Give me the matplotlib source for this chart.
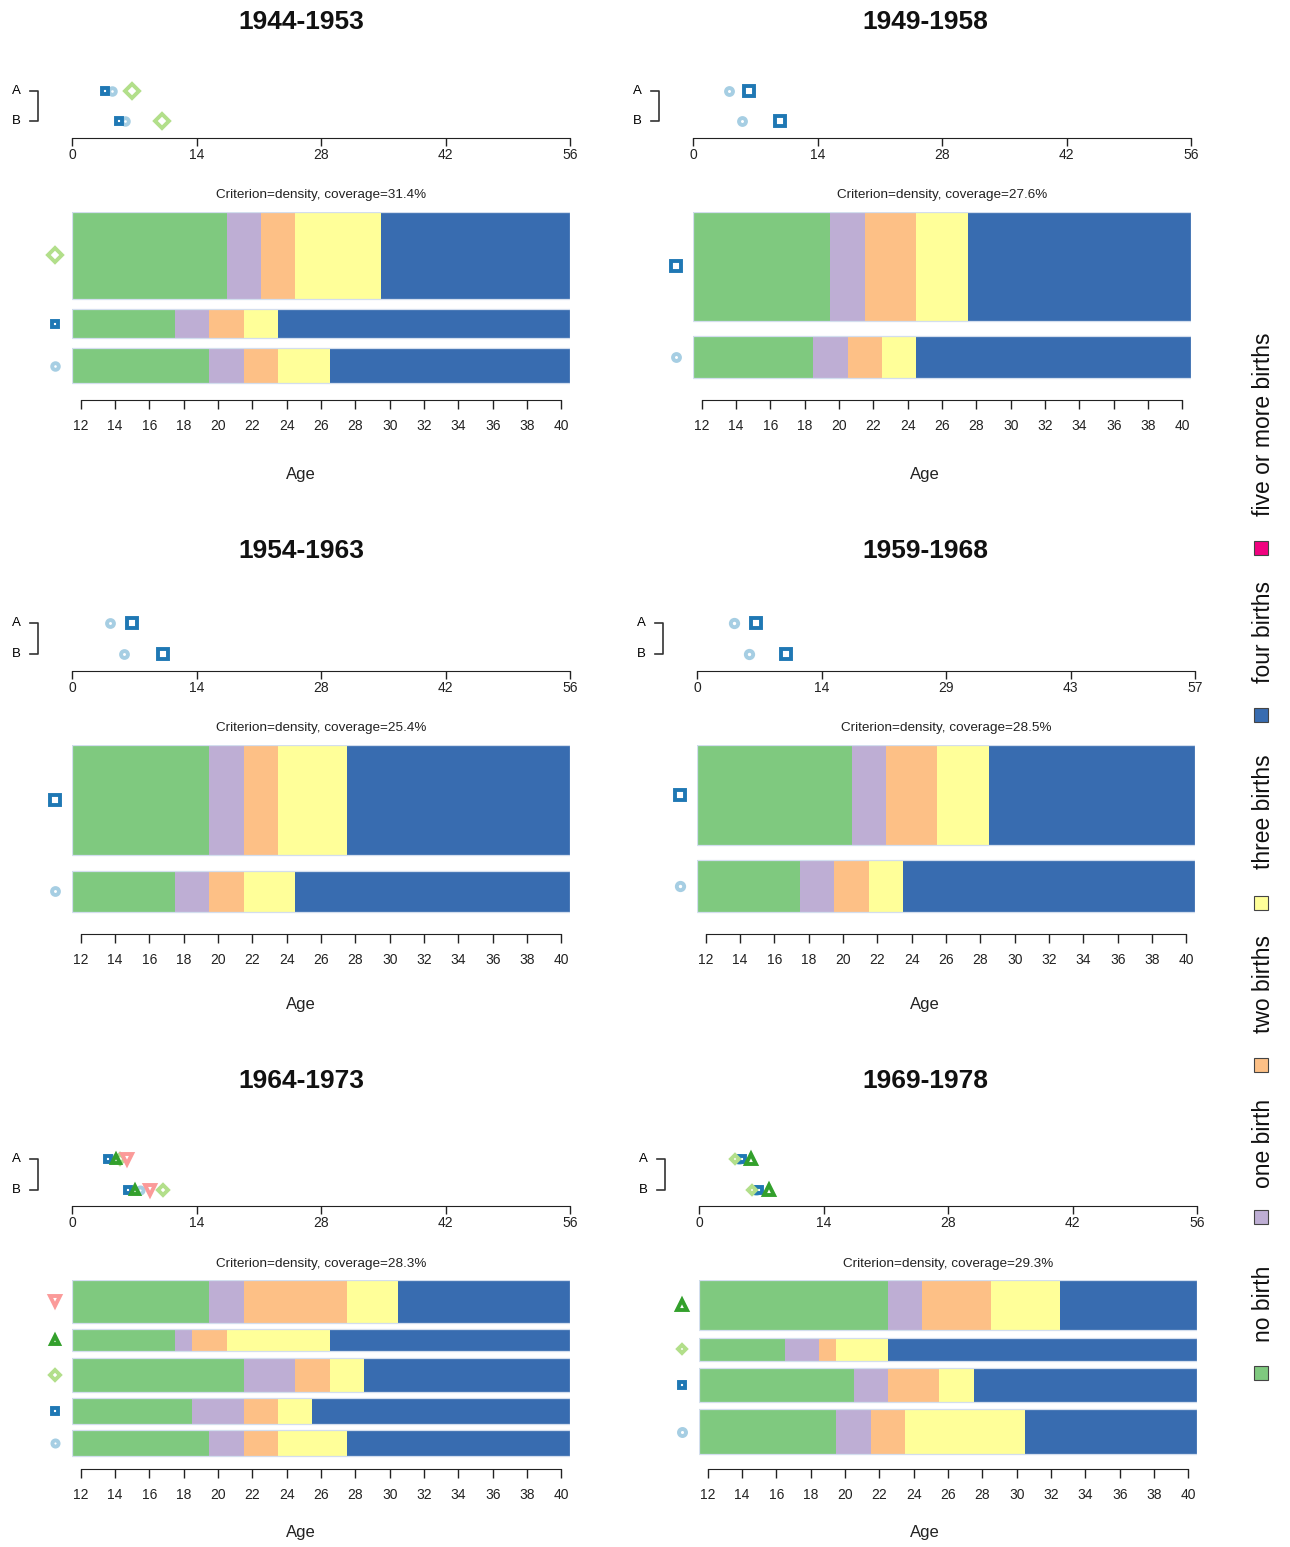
import matplotlib
matplotlib.use("Agg")
import matplotlib.pyplot as plt
import matplotlib.transforms as mtransforms
from matplotlib.patches import Rectangle

plt.rcParams["font.family"] = ["Liberation Sans", "DejaVu Sans"]

W, H = 1290, 1547

STATES = ["no birth", "one birth", "two births", "three births", "four births",
          "five or more births"]
STATE_COLORS = ["#7FC97F", "#BEAED4", "#FDC086", "#FFFF99", "#386CB0", "#F0027F"]
AGE_FIRST, AGE_LAST = 12, 40
AGE_TICKS = list(range(12, 41, 2))

COHORTS = ["1944-1953", "1949-1958", "1954-1963", "1959-1968", "1964-1973", "1969-1978"]
COVERAGE = [31.4, 27.6, 25.4, 28.5, 28.3, 29.3]
DIST_MAX = [56, 56, 56, 57, 56, 56]

# representative symbols (cluster order 1..5, drawn bottom to top)
REP_MARKERS = ["o", "s", "D", "^", "v"]
REP_COLORS = ["#A6CEE3", "#1F78B4", "#B2DF8A", "#33A02C", "#FB9A99"]

# years spent in: no birth, one, two, three, four births (per representative)
SPELLS_1944 = [[8, 2, 2, 3, 14], [6, 2, 2, 2, 17], [9, 2, 2, 5, 11]]
SPELLS_1949 = [[7, 2, 2, 2, 16], [8, 2, 3, 3, 13]]
SPELLS_1954 = [[6, 2, 2, 3, 16], [8, 2, 2, 4, 13]]
SPELLS_1959 = [[6, 2, 2, 2, 17], [9, 2, 3, 3, 12]]
SPELLS_1964 = [[8, 2, 2, 4, 13], [7, 3, 2, 2, 15], [10, 3, 2, 2, 12],
               [6, 1, 2, 6, 14], [8, 2, 6, 3, 10]]
SPELLS_1969 = [[8, 2, 2, 7, 10], [9, 2, 3, 2, 13], [5, 2, 1, 3, 18],
               [11, 2, 4, 4, 8]]

# share of sequences represented (%)
FREQ_1944 = [7.2, 6.1, 18.1]
FREQ_1949 = [7.7, 19.9]
FREQ_1954 = [6.9, 18.5]
FREQ_1959 = [9.7, 18.8]
FREQ_1964 = [4.8, 4.8, 6.5, 4.2, 8.0]
FREQ_1969 = [8.7, 6.5, 4.4, 9.7]

# A / B mean distances
DIST_A_1944 = [4.5, 3.7, 6.7]
DIST_B_1944 = [6.0, 5.3, 10.1]
DIST_A_1949 = [4.0, 6.3]
DIST_B_1949 = [5.5, 9.8]
DIST_A_1954 = [4.3, 6.7]
DIST_B_1954 = [5.9, 10.2]
DIST_A_1959 = [4.25, 6.8]
DIST_B_1959 = [6.0, 10.2]
DIST_A_1964 = [4.6, 4.0, 5.4, 5.0, 6.2]
DIST_B_1964 = [7.7, 6.3, 10.2, 7.1, 8.8]
DIST_A_1969 = [4.5, 4.8, 4.1, 5.85]
DIST_B_1969 = [6.4, 6.7, 6.0, 7.9]

SPELLS = [SPELLS_1944, SPELLS_1949, SPELLS_1954, SPELLS_1959, SPELLS_1964, SPELLS_1969]
FREQS = [FREQ_1944, FREQ_1949, FREQ_1954, FREQ_1959, FREQ_1964, FREQ_1969]
DIST_A = [DIST_A_1944, DIST_A_1949, DIST_A_1954, DIST_A_1959, DIST_A_1964, DIST_A_1969]
DIST_B = [DIST_B_1944, DIST_B_1949, DIST_B_1954, DIST_B_1959, DIST_B_1964, DIST_B_1969]

# pixel layout
COL_X0 = [72, 693, 72, 697, 72, 699]
COL_CENTER = [301, 925]
PANEL_W = 498
ROWS = [
    dict(title=22, a=91, b=121, axis=138, crit=195, top=212, bot=393, xlab=475),
    dict(title=551, a=623, b=654, axis=671, crit=728, top=745, bot=927, xlab=1004),
    dict(title=1081, a=1159, b=1190, axis=1206, crit=1264, top=1280, bot=1462, xlab=1533),
]
SHAPE_SCALE = {"o": 1.0, "s": 1.0, "D": 1.05, "^": 1.35, "v": 1.35}


def rect(x0, y0, x1, y1):
    return [x0 / W, 1 - y1 / H, (x1 - x0) / W, (y1 - y0) / H]


def msize(marker, share):
    return (3.6 + 5.0 * share) * SHAPE_SCALE[marker]


def dist_panel(fig, k, row, x0):
    r = ROWS[row]
    ax = fig.add_axes(rect(x0, r["a"] - 16, x0 + PANEL_W, r["axis"]))
    unit = r["b"] - r["a"]
    ax.set_ylim(-(r["axis"] - r["b"]) / unit, 1 + 16 / unit)
    ax.set_xlim(0, DIST_MAX[k])
    ax.patch.set_visible(False)
    for s in ("left", "top", "right"):
        ax.spines[s].set_visible(False)
    ax.spines["bottom"].set_bounds(0, DIST_MAX[k])
    ax.spines["bottom"].set_color("#222222")
    ticks = [DIST_MAX[k] * i / 4 for i in range(5)]
    ax.set_xticks(ticks, [str(int(t + 0.5)) for t in ticks])
    ax.tick_params(axis="x", length=6, width=1, pad=1.5, labelsize=10, colors="#222222")
    ax.set_yticks([])
    total = sum(FREQS[k])
    for i, (da, db) in enumerate(zip(DIST_A[k], DIST_B[k])):
        m = REP_MARKERS[i]
        ms = msize(m, FREQS[k][i] / total)
        ax.plot([da, db], [1, 0], linestyle="none", marker=m, ms=ms,
                mfc="white", mec=REP_COLORS[i], mew=2.8, clip_on=False)
    tr = mtransforms.blended_transform_factory(ax.transAxes, ax.transData)
    ax.plot([-0.084, -0.068, -0.068, -0.084], [1, 1, 0, 0], color="#333333", lw=1.2,
            transform=tr, clip_on=False)
    ax.text(-0.112, 1, "A", transform=tr, ha="center", va="center", fontsize=9.5)
    ax.text(-0.112, 0, "B", transform=tr, ha="center", va="center", fontsize=9.5)


def bar_panel(fig, k, row, x0):
    r = ROWS[row]
    ax = fig.add_axes(rect(x0, r["top"], x0 + PANEL_W, r["bot"]))
    spells = SPELLS[k]
    freqs = FREQS[k]
    gap = 0.2 * sum(freqs) / len(freqs)
    ys, pos = [], 0.0
    for f in freqs:
        pos += gap
        ys.append(pos + f / 2)
        pos += f
    ax.set_ylim(0, pos)
    ax.set_xlim(AGE_FIRST - 0.5, AGE_LAST + 0.5)
    lefts = [AGE_FIRST - 0.5] * len(spells)
    for s in range(5):
        widths = [sp[s] for sp in spells]
        ax.barh(ys, widths, left=lefts, height=freqs, color=STATE_COLORS[s],
                edgecolor="none", linewidth=0)
        lefts = [l + w for l, w in zip(lefts, widths)]
    ax.barh(ys, [sum(sp) for sp in spells], left=AGE_FIRST - 0.5, height=freqs,
            fill=False, edgecolor="#d3deee", linewidth=0.9)
    for s in ("left", "top", "right"):
        ax.spines[s].set_visible(False)
    ax.spines["bottom"].set_position(("outward", 5))
    ax.spines["bottom"].set_bounds(AGE_TICKS[0], AGE_TICKS[-1])
    ax.spines["bottom"].set_color("#222222")
    ax.set_xticks(AGE_TICKS)
    ax.tick_params(axis="x", length=6.5, width=1, pad=7.5, labelsize=10, colors="#222222")
    ax.set_yticks([])
    tr = mtransforms.blended_transform_factory(ax.transAxes, ax.transData)
    total = sum(freqs)
    for i, y in enumerate(ys):
        m = REP_MARKERS[i]
        ax.plot([-0.035], [y], linestyle="none", marker=m, ms=msize(m, freqs[i] / total),
                mfc="white", mec=REP_COLORS[i], mew=2.8, transform=tr, clip_on=False)
    fig.text((x0 + PANEL_W / 2) / W, 1 - r["crit"] / H,
             f"Criterion=density, coverage={COVERAGE[k]}%",
             ha="center", va="center", fontsize=9.7, color="#222222")


fig = plt.figure(figsize=(W / 100, H / 100), dpi=100)

for k, cohort in enumerate(COHORTS):
    row, col = divmod(k, 2)
    x0 = COL_X0[k]
    r = ROWS[row]
    fig.text(COL_CENTER[col] / W, 1 - r["title"] / H, cohort, ha="center", va="center",
             fontsize=19, fontweight="bold", color="#111111")
    dist_panel(fig, k, row, x0)
    bar_panel(fig, k, row, x0)
    fig.text(COL_CENTER[col] / W, 1 - r["xlab"] / H, "Age", ha="center", va="center",
             fontsize=12, color="#222222")

# legend on the right, rotated
LEG_SQUARE_Y = [1373, 1217, 1065, 903, 715, 548]
LEG_TEXT_Y = [1304, 1143, 984, 812, 632, 424]
for name, color, sy, ty in zip(STATES, STATE_COLORS, LEG_SQUARE_Y, LEG_TEXT_Y):
    sq = 14
    fig.patches.append(Rectangle(((1261 - sq / 2) / W, 1 - (sy + sq / 2) / H), sq / W, sq / H,
                                 transform=fig.transFigure, facecolor=color,
                                 edgecolor="#444444", linewidth=0.8))
    fig.text(1263 / W, 1 - ty / H, name, rotation=90, ha="center", va="center",
             fontsize=16.5, color="#111111")

fig.savefig("out.png", dpi=100)
